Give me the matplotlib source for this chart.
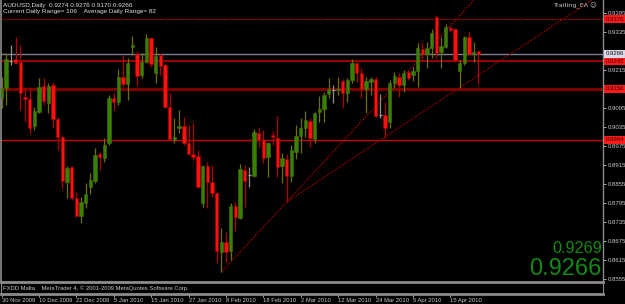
import matplotlib
matplotlib.use("Agg")
import matplotlib.pyplot as plt
import matplotlib.transforms as mtransforms

# AUDUSD daily candles, 30 Nov 2009 .. 23 Apr 2010
opens = [0.9126, 0.9158, 0.9243, 0.9250, 0.9240, 0.9129, 0.9123, 0.9038, 0.9082, 0.9164,
         0.9111, 0.9167, 0.9060, 0.9003, 0.8861, 0.8908, 0.8810, 0.8753, 0.8795, 0.8845,
         0.8864, 0.8949, 0.8937, 0.8984, 0.9126, 0.9114, 0.9193, 0.9171, 0.9287, 0.9265,
         0.9199, 0.9240, 0.9316, 0.9205, 0.9262, 0.9231, 0.9098, 0.8994, 0.9032, 0.9038,
         0.8984, 0.8949, 0.8943, 0.8795, 0.8911, 0.8861, 0.8826, 0.8640, 0.8671, 0.8643,
         0.8785, 0.8747, 0.8899, 0.8883, 0.8880, 0.9016, 0.8994, 0.8940, 0.9009, 0.9000,
         0.8911, 0.8934, 0.8880, 0.8956, 0.9006, 0.9032, 0.9054, 0.8997, 0.9082, 0.9092,
         0.9139, 0.9152, 0.9152, 0.9180, 0.9142, 0.9183, 0.9237, 0.9205, 0.9155, 0.9177,
         0.9186, 0.9073, 0.9073, 0.9051, 0.9174, 0.9193, 0.9167, 0.9208, 0.9199, 0.9212,
         0.9281, 0.9265, 0.9284, 0.9382, 0.9272, 0.9287, 0.9348, 0.9344, 0.9212, 0.9237,
         0.9319, 0.9265, 0.9274]
highs = [0.9193, 0.9269, 0.9294, 0.9319, 0.9294, 0.9161, 0.9161, 0.9098, 0.9190, 0.9190,
         0.9174, 0.9177, 0.9066, 0.9009, 0.8911, 0.8911, 0.8829, 0.8813, 0.8858, 0.8889,
         0.8968, 0.8956, 0.9000, 0.9136, 0.9142, 0.9218, 0.9262, 0.9253, 0.9322, 0.9275,
         0.9269, 0.9329, 0.9319, 0.9287, 0.9269, 0.9237, 0.9142, 0.9063, 0.9088, 0.9066,
         0.9041, 0.9047, 0.8962, 0.8914, 0.8924, 0.8914, 0.8829, 0.8716, 0.8703, 0.8795,
         0.8798, 0.8918, 0.8914, 0.8908, 0.9028, 0.9035, 0.9025, 0.8987, 0.9022, 0.9069,
         0.8953, 0.8949, 0.8978, 0.9041, 0.9063, 0.9085, 0.9063, 0.9082, 0.9133, 0.9145,
         0.9190, 0.9167, 0.9193, 0.9186, 0.9190, 0.9250, 0.9240, 0.9221, 0.9193, 0.9193,
         0.9193, 0.9139, 0.9114, 0.9183, 0.9208, 0.9205, 0.9215, 0.9215, 0.9224, 0.9300,
         0.9300, 0.9303, 0.9344, 0.9389, 0.9319, 0.9360, 0.9354, 0.9348, 0.9246, 0.9322,
         0.9335, 0.9303, 0.9276]
lows = [0.9095, 0.9104, 0.9231, 0.9235, 0.9088, 0.9051, 0.9016, 0.9025, 0.9079, 0.9104,
        0.9079, 0.9032, 0.8962, 0.8842, 0.8810, 0.8804, 0.8750, 0.8731, 0.8779, 0.8823,
        0.8858, 0.8899, 0.8924, 0.8978, 0.9088, 0.9104, 0.9161, 0.9120, 0.9262, 0.9167,
        0.9190, 0.9237, 0.9224, 0.9174, 0.9199, 0.9096, 0.8994, 0.8984, 0.9016, 0.8978,
        0.8946, 0.8930, 0.8842, 0.8782, 0.8779, 0.8813, 0.8605, 0.8576, 0.8608, 0.8614,
        0.8706, 0.8745, 0.8782, 0.8845, 0.8877, 0.8971, 0.8921, 0.8877, 0.8978, 0.8877,
        0.8858, 0.8798, 0.8861, 0.8934, 0.8953, 0.9003, 0.8971, 0.8984, 0.9051, 0.9051,
        0.9126, 0.9111, 0.9136, 0.9095, 0.9114, 0.9174, 0.9177, 0.9126, 0.9079, 0.9136,
        0.9066, 0.9063, 0.9000, 0.9032, 0.9158, 0.9129, 0.9145, 0.9183, 0.9180, 0.9161,
        0.9250, 0.9221, 0.9253, 0.9253, 0.9221, 0.9284, 0.9335, 0.9240, 0.9158, 0.9231,
        0.9262, 0.9240, 0.9170]
closes = [0.9158, 0.9250, 0.9243, 0.9237, 0.9142, 0.9123, 0.9032, 0.9085, 0.9161, 0.9117,
          0.9164, 0.9060, 0.9003, 0.8864, 0.8905, 0.8810, 0.8753, 0.8798, 0.8823, 0.8867,
          0.8946, 0.8940, 0.8978, 0.9126, 0.9114, 0.9193, 0.9171, 0.9237, 0.9294, 0.9196,
          0.9240, 0.9316, 0.9234, 0.9259, 0.9227, 0.9098, 0.8997, 0.9003, 0.9038, 0.8984,
          0.8949, 0.8940, 0.8845, 0.8911, 0.8861, 0.8826, 0.8643, 0.8671, 0.8640, 0.8785,
          0.8750, 0.8902, 0.8864, 0.8883, 0.9019, 0.8994, 0.8937, 0.8984, 0.9003, 0.8908,
          0.8937, 0.8880, 0.8962, 0.9006, 0.9032, 0.9057, 0.9000, 0.9079, 0.9092, 0.9136,
          0.9155, 0.9152, 0.9155, 0.9142, 0.9183, 0.9237, 0.9205, 0.9155, 0.9180, 0.9186,
          0.9069, 0.9073, 0.9032, 0.9174, 0.9196, 0.9167, 0.9205, 0.9190, 0.9212, 0.9284,
          0.9265, 0.9284, 0.9332, 0.9269, 0.9291, 0.9351, 0.9341, 0.9246, 0.9237, 0.9319,
          0.9265, 0.9272, 0.9266]

date_ticks = [0, 8, 16, 24, 32, 40, 48, 56, 64, 72, 80, 88, 96]
date_labels = ["30 Nov 2009", "10 Dec 2009", "22 Dec 2009", "5 Jan 2010", "15 Jan 2010",
               "27 Jan 2010", "8 Feb 2010", "18 Feb 2010", "2 Mar 2010", "12 Mar 2010",
               "24 Mar 2010", "5 Apr 2010", "15 Apr 2010"]
price_ticks = [0.9395, 0.9335, 0.9275, 0.9215, 0.9155, 0.9095, 0.9035, 0.8975,
               0.8915, 0.8855, 0.8795, 0.8735, 0.8675, 0.8615, 0.8555]
# these two scale labels sit under the coloured price boxes
hidden_ticks = [0.9275, 0.9155]

level_prices = [0.9376, 0.9242, 0.9156, 0.8994]
bid = 0.9266
ask = 0.9269

# trendlines: (bar index, price) end points
steep_x = [47, 101.1]
steep_y = [0.8576, 0.9436]
flat_x = [61, 126.3]
flat_y = [0.8798, 0.9436]

W, H = 625, 304
fig = plt.figure(figsize=(W / 100, H / 100), dpi=100, facecolor="black")
ax = fig.add_axes([1 / W, 23 / H, 602 / W, 281 / H], facecolor="black")
ax.set_xlim(-0.107, 128.66)
ax.set_ylim(0.85487, 0.94361)

# horizontal levels
ax.axhline(level_prices[0], color="#b00000", lw=0.8, ls=(0, (1.5, 1)), zorder=1)
ax.axhline(level_prices[1], color="#a80000", lw=1.3, zorder=1)
ax.axhline(level_prices[2], color="#7a0000", lw=2.2, zorder=1)
ax.axhline(level_prices[3], color="#c80000", lw=1.0, zorder=1)
ax.axhline(bid, color="#7a8090", lw=1.0, zorder=1)

# trendlines
ax.plot(steep_x, steep_y, color="#a00000", lw=0.8, ls=(0, (1.5, 1)), zorder=1)
ax.plot(flat_x, flat_y, color="#a00000", lw=0.8, ls=(0, (1.5, 1)), zorder=1)

# candles
for i in range(len(opens)):
    o, h, l, c = opens[i], highs[i], lows[i], closes[i]
    if c > o:
        body, edge, wick = "#358200", "#4f6a10", "#6b7000"
    elif c < o:
        body, edge, wick = "#ff1010", "#a00000", "#b00000"
    else:
        body, edge, wick = "#a0a0a0", "#a0a0a0", "#909090"
    ax.vlines(i, l, h, color=wick, lw=0.9, zorder=2)
    if c == o:
        ax.hlines(o, i - 0.35, i + 0.35, color=body, lw=0.9, zorder=3)
    else:
        ax.bar(i, abs(c - o), bottom=min(o, c), width=0.72, color=body,
               edgecolor=edge, linewidth=0.4, zorder=3)

# axes look
for s in ["top", "bottom"]:
    ax.spines[s].set_visible(False)
ax.spines["left"].set_color("#8c8c8c")
ax.spines["right"].set_color("#8c8c8c")
ax.spines["left"].set_linewidth(1.2)
ax.spines["right"].set_linewidth(1.0)
ax.set_xticks([])
ax.yaxis.tick_right()
ax.set_yticks(price_ticks)
ax.set_yticklabels(["" if p in hidden_ticks else "%.4f" % p for p in price_ticks])
ax.tick_params(axis="y", colors="#c8c8c8", length=2, width=0.6, pad=1.5,
               labelsize=4.3)
for t in ax.get_yticklabels():
    t.set_family("Liberation Sans")

# price labels on the right scale
trans = mtransforms.blended_transform_factory(ax.transAxes, ax.transData)
for p in level_prices:
    ax.text(1.004, p, "%.4f" % p, transform=trans, ha="left", va="center",
            fontsize=4.3, family="Liberation Sans", color="#300000", zorder=5,
            bbox=dict(boxstyle="square,pad=0.25", fc="#ff1a1a", ec="none"), clip_on=False)
ax.text(1.004, bid, "%.4f" % bid, transform=trans, ha="left", va="center",
        fontsize=4.3, family="Liberation Sans", color="#101010", zorder=5,
        bbox=dict(boxstyle="square,pad=0.25", fc="#dcd6ea", ec="none"), clip_on=False)

# small window at the bottom + date scale
ax2 = fig.add_axes([1 / W, 10 / H, 602 / W, 12 / H], facecolor="black")
ax2.set_xlim(ax.get_xlim())
ax2.set_yticks([])
for s in ["top", "bottom"]:
    ax2.spines[s].set_color("#8c8c8c")
    ax2.spines[s].set_linewidth(2)
ax2.spines["left"].set_color("#8c8c8c")
ax2.spines["right"].set_color("#8c8c8c")
ax2.set_xticks(date_ticks)
ax2.set_xticklabels(date_labels, ha="left")
ax2.tick_params(axis="x", colors="#c8c8c8", length=2, width=0.6, pad=1,
                labelsize=4.2)
for t in ax2.get_xticklabels():
    t.set_family("Liberation Sans")
ax2.text(0.004, 0.45, "FXDD Malta    MetaTrader 4, \u00a9 2001-2009 MetaQuotes Software Corp.",
         transform=ax2.transAxes, ha="left", va="center", fontsize=4.2,
         family="Liberation Sans", color="#c8c8c8")

# header texts
fig.text(3 / W, 1 - 5 / H, "AUDUSD,Daily  0.9274 0.9276 0.9170 0.9266",
         ha="left", va="center", fontsize=4.6, family="Liberation Sans", color="#e0e0e0")
fig.text(3 / W, 1 - 12 / H, "Current Daily Range= 106    Average Daily Range= 82",
         ha="left", va="center", fontsize=4.6, family="Liberation Sans", color="#e0e0e0")
fig.text(597 / W, 1 - 6 / H, "Trailing_EA \u263a", ha="right", va="center",
         fontsize=4.6, family="DejaVu Sans", color="#c8c8c8")

# big bid/ask readout
fig.text(602 / W, (H - 253) / H, "%.4f" % ask, ha="right", va="baseline",
         fontsize=11.7, family="Liberation Sans", color="#138a13")
fig.text(602 / W, (H - 275) / H, "%.4f" % bid, ha="right", va="baseline",
         fontsize=17, family="Liberation Sans", color="#138a13")

fig.savefig("out.png", dpi=100, facecolor="black")
